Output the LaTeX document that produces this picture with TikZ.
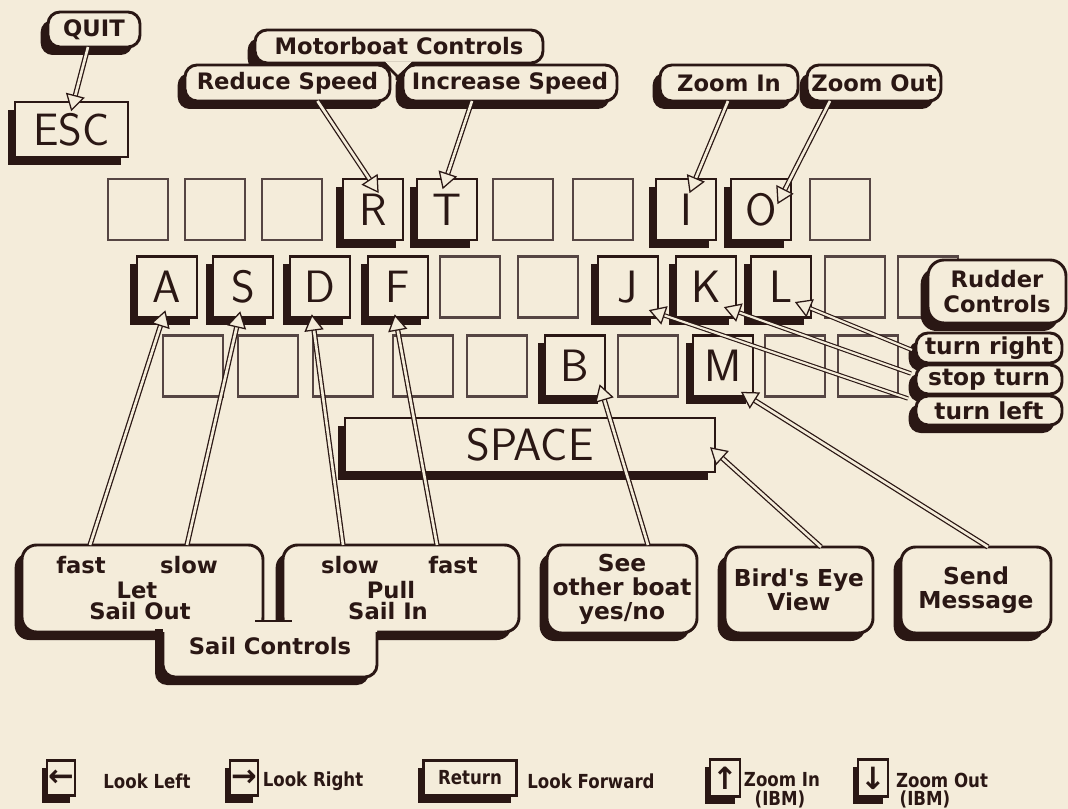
\documentclass[tikz,border=0pt]{standalone}
\usepackage{fontspec}
\newfontfamily\chic{DejaVu Sans}
\newfontfamily\lgf{DejaVu Sans}[FakeStretch=0.86]
\usetikzlibrary{calc,shadows}
\definecolor{ink}{HTML}{2A1714}
\definecolor{paper}{HTML}{F4ECDA}
\newcommand\lblfont{\chic\bfseries\fontsize{17}{18}\selectfont}
\newcommand\keyfont{\sffamily\fontsize{34}{34}\selectfont}
\newcommand\lgfont{\lgf\bfseries\fontsize{14.5}{15}\selectfont}
\newcommand\harrow[3][]{%
  \coordinate (hs) at #2;
  \coordinate (ht) at #3;
  \coordinate (hb) at ($(ht)!11pt!(hs)$);
  \draw[shaft,#1] (hs) -- (hb);
  \draw[head] (ht) -- ($(hb)!6.5pt!90:(ht)$) -- ($(hb)!6.5pt!-90:(ht)$) -- cycle;
}
\begin{document}
\begin{tikzpicture}[x=0.75pt,y=-0.75pt,
  sz/.style 2 args={minimum width=#1*0.75pt, minimum height=#2*0.75pt},
  shad/.style={drop shadow={shadow xshift=-5.5pt, shadow yshift=-6pt, fill=ink, opacity=1}},
  sshad/.style={drop shadow={shadow xshift=-4pt, shadow yshift=-5.5pt, fill=ink, opacity=1}},
  key/.style={draw=ink, line width=2pt, fill=paper, inner sep=0pt, outer sep=0pt, sz={60}{61}, shad, text=ink, font=\keyfont},
  ekey/.style={draw=ink!80, line width=1.8pt, fill=paper, inner sep=0pt, outer sep=0pt, sz={60}{61}},
  lbl/.style={draw=ink, line width=2.2pt, fill=paper, rounded corners=9pt, inner sep=0pt, outer sep=0pt, shad, text=ink, font=\lblfont, align=center},
  bbox/.style={lbl, rounded corners=11pt, font=\chic\bfseries\fontsize{17.5}{18}\selectfont},
  txt/.style={text=ink, font=\lblfont, inner sep=0pt, align=center},
  lkey/.style={draw=ink, line width=1.6pt, fill=paper, inner sep=0pt, outer sep=0pt, sshad, text=ink},
  ltxt/.style={text=ink, font=\lgfont, inner sep=0pt},
  arrfont/.style={font=\chic\bfseries\fontsize{23}{23}\selectfont},
  shaft/.style={draw=ink, line width=0.95pt, double=paper, double distance=2pt},
  thinshaft/.style={line width=0.85pt, double distance=1.6pt},
  head/.style={draw=ink, line width=0.95pt, fill=paper, line join=miter}
]
\fill[paper] (0,0) rectangle (1068,809);
\useasboundingbox (0,0) rectangle (1068,809);

% ---------- keyboard ----------
\foreach \x [count=\i] in {138,215,292,523,603,840} \node[ekey] (t\i) at (\x,209.5) {};
\foreach \x [count=\i] in {470,548,855,928} \node[ekey] (m\i) at (\x,287) {};
\foreach \x [count=\i] in {193,268,343,423,497,648,795,868} \node[ekey] (b\i) at (\x,366) {};

\node[key] (R) at (373,209.5) {R};
\node[key] (T) at (447,209.5) {T};
\node[key] (I) at (686,209.5) {I};
\node[key] (O) at (761,209.5) {O};
\node[key] (A) at (167,287) {A};
\node[key] (S) at (243,287) {S};
\node[key] (D) at (320,287) {D};
\node[key] (F) at (398,287) {F};
\node[key] (J) at (628,287) {J};
\node[key] (K) at (706,287) {K};
\node[key] (L) at (781,287) {L};
\node[key] (B) at (575,366) {B};
\node[key] (M) at (723,366) {M};
\node[key, sz={370}{54}] (space) at (530,445) {SPACE};
\node[key, sz={113}{55}] (esc) at (71.5,129.5) {ESC};

% ---------- top labels ----------
\node[lbl, sz={92}{35}] (quit) at (94,29.5) {QUIT};
\node[lbl, sz={288}{33}] (motor) at (399,46.5) {Motorboat Controls};
\node[lbl, sz={205}{36}] (reduce) at (287.5,83) {Reduce Speed};
\node[lbl, sz={214}{36}] (increase) at (510,83) {Increase Speed};
\fill[paper] ($(motor.south)+(-14,-1.5)$) -- ($(motor.south)+(-1,13)$) -- ($(motor.south)+(13,-1.5)$) -- cycle;
\draw[ink, line width=2pt] ($(motor.south)+(-15,0)$) -- ($(motor.south)+(-2,13)$) -- ($(motor.south)+(-2,17)$);
\draw[ink, line width=2pt] ($(motor.south)+(14,0)$) -- ($(motor.south)+(0,13)$) -- ($(motor.south)+(0,17)$);
\node[lbl, sz={138}{36}] (zin) at (729,83) {Zoom In};
\node[lbl, sz={134}{36}] (zout) at (874,83) {Zoom Out};

% ---------- rudder ----------
\node[lbl, rounded corners=12pt, sz={138}{63}, font=\chic\bfseries\fontsize{17}{19}\selectfont] (rudder) at (997,291.5) {Rudder\\Controls};
\node[lbl, sz={146}{30}, font=\chic\bfseries\fontsize{17.5}{18}\selectfont] (tright) at (989,348) {turn right};
\node[lbl, sz={146}{29}, font=\chic\bfseries\fontsize{17.5}{18}\selectfont] (tstop) at (989,379.5) {stop turn};
\node[lbl, sz={146}{29}, font=\chic\bfseries\fontsize{17.5}{18}\selectfont] (tleft) at (989,410.5) {turn left};

% ---------- sail controls ----------
\node[bbox, sz={241}{87}] (letbox) at (142.5,588.5) {};
\node[bbox, sz={236}{87}] (pullbox) at (401,588.5) {};
\fill[ink, rounded corners=9pt] (155,629) -- (155,685) -- (369,685) -- (369,629);
\fill[paper, rounded corners=9pt] (163,621) -- (163,677) -- (377,677) -- (377,621);
\draw[ink, line width=2.2pt, rounded corners=9pt] (163,632) -- (163,677) -- (377,677) -- (377,632);
\draw[ink, line width=2.2pt] (255,621) -- (292,621);
\node[txt] (sailctl) at (270,646) {Sail Controls};
\node[txt] (fastL) at (81,565) {fast};
\node[txt] (slowL) at (189,565) {slow};
\node[txt] (letL) at (137,590) {Let};
\node[txt] (outL) at (140,611) {Sail Out};
\node[txt] (slowP) at (350,565) {slow};
\node[txt] (fastP) at (453,565) {fast};
\node[txt] (pullP) at (391,590) {Pull};
\node[txt] (inP) at (388,611) {Sail In};

% ---------- other bottom boxes ----------
\node[bbox, sz={150}{88}] (see) at (622,589) {See\\other boat\\yes/no};
\node[bbox, sz={148}{86}] (bird) at (799,590) {Bird's Eye\\View};
\node[bbox, sz={150}{86}] (send) at (976,590) {Send\\Message};

% ---------- connectors ----------
\harrow{($(quit.south)+(-6,0)$)}{($(esc.north)+(0,8)$)}
\harrow{($(reduce.south)+(30,0)$)}{($(R.north)+(5,13)$)}
\harrow{($(increase.south)+(-38,0)$)}{($(T.north)+(-4,9)$)}
\harrow{($(zin.south)+(-1,0)$)}{($(I.north)+(4,13)$)}
\harrow{($(zout.south)+(-44,0)$)}{($(O.north)+(17,24)$)}
\harrow{($(fastL |- letbox.north)+(9,0)$)}{($(A.south)+(-2,-6)$)}
\harrow{($(slowL |- letbox.north)+(-2,0)$)}{($(S.south)+(-3,-5)$)}
\harrow{($(slowP |- pullbox.north)+(-7,0)$)}{($(D.south)+(-8,-2)$)}
\harrow{($(fastP |- pullbox.north)+(-16,0)$)}{($(F.south)+(-3,-2)$)}
\harrow{($(see.north)+(26,0)$)}{($(B.south)+(25,-11)$)}
\harrow{($(bird.north)+(22,0)$)}{($(space.south east)+(-4,-24)$)}
\harrow{($(send.north)+(12,0)$)}{($(M.south)+(19,-4)$)}
\harrow[thinshaft]{($(tright.west)+(-4,2)$)}{($(L.south)+(15,-15)$)}
\harrow[thinshaft]{($(tstop.west)+(-5,-6)$)}{($(K.south)+(19,-10)$)}
\harrow[thinshaft]{($(tleft.west)+(-8,-12)$)}{($(J.south)+(22,-7)$)}

% ---------- legend ----------
\node[lkey, sz={28}{35}, arrfont] (lk1) at (61,778) {←};
\node[ltxt] (lt1) at (147,781) {Look Left};
\node[lkey, sz={28}{35}, arrfont] (lk2) at (244,778) {→};
\node[ltxt] (lt2) at (313,781) {Look Right};
\node[lkey, sz={93}{35}, font=\lgfont] (lk3) at (470,778) {Return};
\node[ltxt] (lt3) at (591,781) {Look Forward};
\node[lkey, sz={30}{37}, arrfont] (lk4) at (725,778) {↑};
\node[ltxt] (lt4) at (782,780) {Zoom In};
\node[ltxt] (li4) at (780,799) {(IBM)};
\node[lkey, sz={30}{37}, arrfont] (lk5) at (873,778) {↓};
\node[ltxt] (lt5) at (942,780) {Zoom Out};
\node[ltxt] (li5) at (925,799) {(IBM)};
\end{tikzpicture}
\end{document}
